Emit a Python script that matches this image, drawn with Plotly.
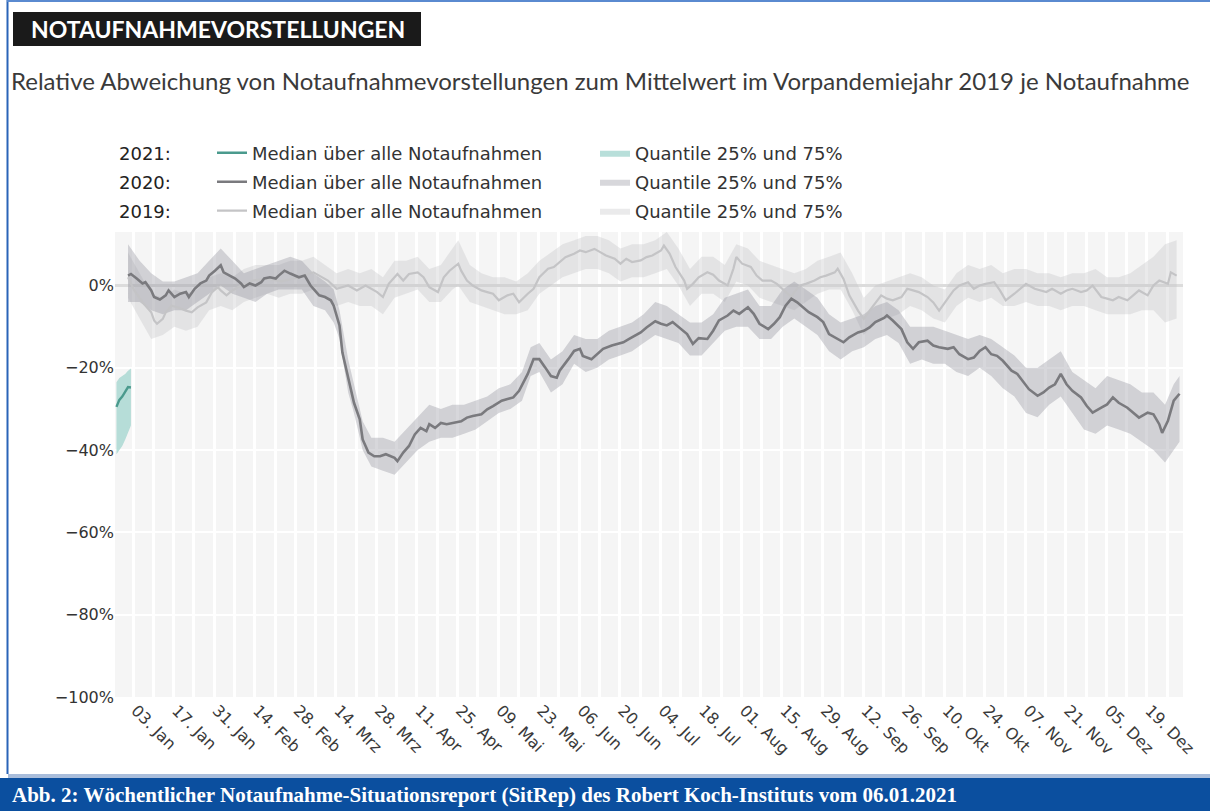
import pandas as pd
import plotly.graph_objects as go

# ---------------- data (day index from 1 Jan, value in %) ----------------
BASE = pd.Timestamp("2021-01-01")

days_2021 = [-2, -1, 0, 1, 2, 3]
med_2021 = [-29.5, -27.8, -27.0, -26.0, -24.7, -24.8]
q25_2021 = [-41.0, -40.0, -39.0, -37.5, -36.0, -34.0]
q75_2021 = [-23.5, -22.5, -22.0, -21.5, -20.7, -20.2]

days_2020 = [2, 3, 5, 7, 8, 10, 11, 13, 15, 16, 18, 20, 22, 23, 25, 27, 29, 30, 32, 34,
             35, 37, 39, 41, 42, 44, 46, 48, 49, 51, 53, 54, 56, 58, 60, 61, 63, 65, 67, 68,
             70, 72, 73, 75, 76, 78, 80, 82, 83, 85, 87, 89, 91, 94, 95, 97, 99, 101, 103, 105,
             106, 108, 110, 112, 114, 117, 119, 121, 124, 126, 128, 131, 133, 135, 137, 140, 142, 144, 146, 148,
             150, 151, 154, 156, 158, 159, 162, 164, 166, 169, 171, 173, 175, 177, 179, 181, 184, 186, 188, 190,
             193, 195, 197, 199, 202, 204, 206, 209, 211, 213, 216, 218, 220, 223, 225, 227, 229, 231, 233, 235,
             237, 240, 242, 244, 247, 249, 251, 254, 256, 258, 260, 263, 264, 266, 269, 271, 273, 275, 278, 280,
             282, 285, 287, 289, 292, 294, 296, 298, 300, 302, 304, 307, 309, 311, 313, 316, 318, 320, 322, 324,
             326, 328, 331, 333, 335, 338, 340, 342, 344, 347, 349, 351, 354, 356, 358, 359, 361, 363, 365]
med_2020 = [2.4, 2.8, 1.7, 0.5, 0.8, -1.2, -2.8, -3.4, -2.4, -1.2, -2.8, -2.0, -1.6, -2.8, -0.8, 0.5, 1.2, 2.4, 3.6, 4.9,
            3.2, 2.4, 1.7, 0.5, -0.4, 0.5, 0.0, 0.8, 1.7, 2.0, 1.7, 2.4, 3.6, 2.9, 2.4, 2.0, 2.4, 0.0, -1.6, -2.4,
            -2.8, -3.6, -4.9, -9.7, -16.3, -22.7, -28.5, -32.5, -37.4, -40.6, -41.5, -41.5, -41.0, -41.9, -42.7, -40.6, -39.0, -36.2, -34.6, -35.4,
            -33.7, -34.6, -33.4, -33.7, -33.4, -33.0, -32.1, -31.7, -31.3, -30.1, -29.3, -28.0, -27.6, -27.2, -25.6, -21.5, -17.9, -17.9, -19.9, -22.0,
            -22.4, -20.7, -17.9, -15.9, -15.4, -17.1, -17.9, -16.7, -15.4, -14.6, -14.2, -13.8, -13.0, -12.2, -11.4, -10.2, -8.7, -9.3, -9.7, -8.9,
            -10.6, -11.8, -14.2, -12.8, -13.0, -11.0, -8.5, -7.3, -6.1, -6.9, -5.3, -6.9, -9.3, -10.6, -9.3, -7.7, -4.9, -3.2, -4.1, -5.3,
            -6.5, -7.7, -8.9, -11.8, -13.0, -13.8, -12.6, -11.4, -11.0, -10.2, -8.9, -7.9, -7.3, -8.5, -10.6, -13.8, -15.4, -13.8, -13.4, -14.6,
            -15.0, -15.4, -15.0, -16.7, -17.9, -17.5, -15.9, -15.0, -16.7, -17.1, -18.3, -20.7, -21.5, -23.5, -25.2, -26.8, -26.0, -24.8, -24.0, -21.5,
            -24.0, -25.6, -27.2, -29.3, -30.9, -29.7, -28.9, -27.2, -28.5, -29.7, -30.9, -32.1, -30.9, -31.3, -33.7, -35.8, -32.9, -28.0, -26.3]

band_days_2020 = [2, 6, 10, 14, 18, 22, 26, 30, 34, 38, 42, 46, 50, 54, 58, 62, 66, 70, 73, 75,
                  78, 80, 83, 86, 90, 94, 98, 102, 106, 110, 114, 118, 122, 126, 130, 134, 138, 141, 144, 148,
                  152, 156, 160, 164, 168, 172, 176, 180, 184, 188, 192, 196, 200, 204, 208, 212, 216, 220, 224, 228,
                  232, 236, 240, 244, 248, 252, 256, 260, 264, 268, 272, 276, 280, 284, 288, 292, 296, 300, 304, 308,
                  312, 316, 320, 324, 328, 332, 336, 340, 344, 348, 352, 356, 360, 363, 365]
q25_2020 = [-4, -4, -6, -7, -6, -6, -4, -2, 0, -2, -3, -4, -2, -1, -1, -1, -5, -6, -9, -13,
            -26, -31, -40, -44, -45, -46, -43, -40, -38, -37, -37, -36, -35, -33, -31, -30, -28, -22, -21, -26,
            -24, -19, -21, -20, -18, -17, -16, -14, -12, -13, -14, -17, -17, -14, -11, -10, -10, -13, -13, -10,
            -8, -10, -12, -16, -18, -16, -15, -13, -12, -14, -19, -18, -19, -19, -21, -22, -20, -22, -25, -27,
            -31, -32, -29, -27, -31, -35, -36, -34, -35, -36, -38, -40, -43, -40, -38]
q75_2020 = [10, 6, 3, 1, 1, 2, 3, 6, 9, 6, 3, 4, 5, 6, 7, 6, 3, 1, -1, -6,
            -18, -24, -33, -37, -37, -38, -35, -32, -29, -30, -29, -29, -28, -27, -25, -24, -21, -15, -14, -18,
            -16, -12, -13, -13, -11, -10, -9, -7, -4, -5, -7, -9, -9, -7, -3, -2, -1, -5, -5, -1,
            1, -1, -3, -7, -9, -8, -7, -5, -4, -6, -10, -10, -10, -11, -12, -13, -12, -13, -15, -17,
            -20, -20, -18, -16, -21, -23, -25, -22, -23, -24, -26, -26, -29, -24, -22]

days_2019 = [2, 4, 7, 10, 11, 12, 14, 15, 17, 19, 22, 24, 26, 29, 31, 33, 34, 36, 38, 41,
             43, 45, 50, 55, 61, 66, 71, 74, 78, 81, 84, 88, 90, 92, 95, 97, 99, 102, 104, 106,
             109, 111, 113, 116, 117, 119, 121, 124, 126, 128, 130, 133, 135, 137, 140, 142, 144, 147, 149, 151,
             153, 156, 158, 160, 163, 165, 167, 170, 172, 174, 176, 179, 181, 183, 186, 187, 189, 191, 194, 195,
             197, 199, 202, 204, 206, 209, 211, 212, 214, 217, 219, 221, 224, 226, 228, 231, 232, 234, 236, 239,
             241, 243, 246, 247, 249, 251, 254, 256, 258, 260, 262, 264, 266, 269, 271, 273, 275, 278, 280, 282,
             285, 287, 289, 292, 294, 296, 298, 301, 303, 305, 308, 310, 312, 315, 317, 319, 321, 324, 326, 328,
             331, 333, 335, 338, 340, 342, 344, 347, 349, 351, 354, 356, 358, 361, 362, 364]
med_2019 = [2.0, -1.0, -4.1, -6.5, -8.5, -9.3, -8.1, -6.5, -4.9, -5.3, -6.1, -6.5, -5.3, -4.1, -1.6, -0.4, -1.2, -2.4, -1.2, 0.0,
            0.4, 1.2, 1.7, 1.0, 2.0, 3.2, 1.2, -0.8, 0.0, -1.2, 0.0, -1.6, -2.8, 0.4, 2.8, 1.2, 2.8, 3.2, 2.0, -0.4,
            -1.6, 2.0, 3.6, 5.3, 3.6, 1.2, 0.0, -1.2, -1.6, -2.0, -3.6, -2.4, -2.0, -4.1, -2.0, -0.8, 2.0, 4.1, 4.5, 5.7,
            6.9, 7.7, 8.5, 8.1, 8.9, 8.1, 7.3, 6.5, 5.3, 6.5, 5.7, 6.1, 6.9, 7.3, 8.5, 9.7, 7.7, 4.5, 1.2, -0.8,
            0.4, 2.0, 3.2, 2.6, 1.2, 0.0, 4.1, 6.9, 5.3, 4.5, 2.4, 1.2, 1.2, 0.4, -0.8, -2.8, -1.6, 0.0, 0.4, 1.2,
            2.0, 2.4, 3.2, 4.1, 1.6, -2.4, -6.1, -8.1, -6.1, -4.1, -2.4, -3.2, -3.6, -2.8, -0.8, -1.2, -1.6, -2.8, -4.1, -6.1,
            -3.2, -1.2, 0.0, 0.8, -0.8, 0.0, 0.4, 0.8, -1.2, -3.6, -2.0, -0.8, 0.4, -0.8, -1.2, -1.6, -0.8, -2.0, -1.2, -0.8,
            -1.6, -1.2, 0.0, -2.8, -3.2, -3.6, -2.8, -3.6, -2.4, -1.2, -2.4, 0.0, 1.2, 0.4, 3.2, 2.4]

band_days_2019 = [2, 6, 10, 14, 18, 22, 26, 30, 34, 38, 42, 46, 50, 54, 58, 62, 66, 70, 74, 78,
                  82, 86, 90, 94, 98, 102, 106, 110, 114, 116, 120, 124, 128, 132, 136, 140, 144, 148, 152, 156,
                  160, 164, 168, 172, 176, 180, 184, 188, 192, 196, 200, 204, 208, 212, 216, 220, 224, 228, 232, 236,
                  240, 244, 248, 252, 256, 260, 264, 268, 272, 276, 280, 284, 288, 292, 296, 300, 304, 308, 312, 316,
                  320, 324, 328, 332, 336, 340, 344, 348, 352, 356, 360, 364]
q25_2019 = [-3, -8, -13, -12, -10, -11, -10, -6, -5, -6, -4, -3, -2, -3, -2, -2, -1, -3, -5, -4,
            -5, -5, -7, -3, -2, -1, -4, -4, -1, 0, -4, -5, -6, -7, -7, -6, -2, 0, 2, 3,
            4, 4, 3, 1, 2, 2, 3, 4, 0, -5, -2, -2, -4, 1, 0, -3, -4, -5, -6, -4,
            -2, -1, -1, -6, -12, -9, -8, -7, -5, -6, -8, -9, -5, -3, -4, -3, -5, -5, -4, -5,
            -5, -6, -5, -5, -6, -7, -7, -7, -6, -6, -9, -8]
q75_2019 = [8, 3, -2, -3, -1, -2, -1, 2, 3, 2, 4, 5, 5, 5, 6, 6, 7, 5, 3, 4,
            3, 4, 2, 6, 6, 7, 4, 5, 9, 11, 5, 3, 2, 2, 1, 3, 6, 8, 10, 11,
            12, 12, 11, 9, 10, 10, 11, 13, 9, 4, 7, 7, 5, 10, 9, 6, 5, 4, 3, 4,
            6, 7, 8, 3, -3, 0, 1, 2, 3, 2, 0, -1, 3, 5, 4, 5, 3, 4, 4, 3,
            3, 2, 3, 3, 4, 2, 2, 3, 5, 7, 10, 11]

tick_days = [2, 16, 30, 44, 58, 72, 86, 100, 114, 128, 142, 156, 170, 184, 198, 212, 226,
             240, 254, 268, 282, 296, 310, 324, 338, 352]
tick_labels = ["03. Jan", "17. Jan", "31. Jan", "14. Feb", "28. Feb", "14. Mrz", "28. Mrz",
               "11. Apr", "25. Apr", "09. Mai", "23. Mai", "06. Jun", "20. Jun", "04. Jul",
               "18. Jul", "01. Aug", "15. Aug", "29. Aug", "12. Sep", "26. Sep", "10. Okt",
               "24. Okt", "07. Nov", "21. Nov", "05. Dez", "19. Dez"]
y_ticks = [-100, -80, -60, -40, -20, 0]
y_tick_labels = ["\u2212100%", "\u221280%", "\u221260%", "\u221240%", "\u221220%", "0%"]

years = ["2021", "2020", "2019"]
median_name = "Median über alle Notaufnahmen"
quantile_name = "Quantile 25% und 75%"


def to_dates(days):
    return list(BASE + pd.to_timedelta(days, unit="D"))


# ---------------- styling ----------------
LINE_COLORS = {"2021": "#4a9a8d", "2020": "#7a7a7e", "2019": "#c4c4c6"}
BAND_COLORS = {"2021": "rgba(160,212,206,0.75)", "2020": "rgba(150,150,160,0.38)",
               "2019": "rgba(195,195,198,0.35)"}
LEGEND_FOR = {"2021": "legend", "2020": "legend2", "2019": "legend3"}
LINE_W = {"2021": 2.4, "2020": 2.6, "2019": 2.2}

series = {
    "2021": (days_2021, med_2021, days_2021, q25_2021, q75_2021),
    "2020": (days_2020, med_2020, band_days_2020, q25_2020, q75_2020),
    "2019": (days_2019, med_2019, band_days_2019, q25_2019, q75_2019),
}

fig = go.Figure()

# bands first (drawn underneath)
for yr in ["2019", "2020", "2021"]:
    d, m, bd, lo, hi = series[yr]
    bx = to_dates(bd)
    fig.add_trace(go.Scatter(
        x=bx + bx[::-1], y=hi + lo[::-1], mode="lines", fill="toself",
        fillcolor=BAND_COLORS[yr], line=dict(width=0), name=quantile_name,
        legend=LEGEND_FOR[yr], legendrank=2, hoverinfo="skip"))

for yr in ["2019", "2020", "2021"]:
    d, m, bd, lo, hi = series[yr]
    fig.add_trace(go.Scatter(
        x=to_dates(d), y=m, mode="lines", line=dict(color=LINE_COLORS[yr], width=LINE_W[yr]),
        name=median_name, legend=LEGEND_FOR[yr], legendrank=1))

# ---------------- layout geometry helpers ----------------
W, H = 1210, 811
ML, MR, MT, MB = 115, 27, 232, 114
PW, PH = W - ML - MR, H - MT - MB


def px(x):
    return (x - ML) / PW


def py(y):
    return (H - MB - y) / PH


FONT = "DejaVu Sans"
row_y = [153, 182, 211]

legend_common = dict(orientation="h", xanchor="left", yanchor="middle", bgcolor="rgba(0,0,0,0)",
                     font=dict(family=FONT, size=18, color="#333333"), itemwidth=30,
                     entrywidth=338, entrywidthmode="pixels", tracegroupgap=0)
legends = {}
for i, yr in enumerate(years):
    key = LEGEND_FOR[yr]
    legends[key] = dict(legend_common, x=px(212), y=py(row_y[i]))

annotations = [
    dict(text="<b>NOTAUFNAHMEVORSTELLUNGEN</b>", x=px(218), y=py(29), xref="paper", yref="paper",
         showarrow=False, xanchor="center", yanchor="middle",
         font=dict(family="Lato", size=23, color="white")),
    dict(text="Relative Abweichung von Notaufnahmevorstellungen zum Mittelwert im Vorpandemiejahr 2019 je Notaufnahme",
         x=px(9), y=py(80), xref="paper", yref="paper", showarrow=False, xanchor="left", yanchor="middle",
         font=dict(family="Lato", size=24, color="#3a3a3a")),
    dict(text="<b>Abb. 2: Wöchentlicher Notaufnahme-Situationsreport (SitRep) des Robert Koch-Instituts vom 06.01.2021</b>",
         x=px(10), y=py(795), xref="paper", yref="paper", showarrow=False, xanchor="left", yanchor="middle",
         font=dict(family="Liberation Serif", size=21, color="white")),
]
for i, yr in enumerate(years):
    annotations.append(dict(text=yr + ":", x=px(117), y=py(row_y[i]), xref="paper", yref="paper",
                            showarrow=False, xanchor="left", yanchor="middle",
                            font=dict(family=FONT, size=18, color="#222222")))

shapes = [
    dict(type="rect", xref="paper", yref="paper", x0=px(13), x1=px(421), y0=py(46), y1=py(12),
         fillcolor="#1a1a1a", line=dict(width=0), layer="above"),
    dict(type="rect", xref="paper", yref="paper", x0=px(0), x1=px(1210), y0=py(811), y1=py(778),
         fillcolor="#0b4f9f", line=dict(width=0)),
    dict(type="rect", xref="paper", yref="paper", x0=px(8), x1=px(1210), y0=py(778), y1=py(774),
         fillcolor="#a9bddb", line=dict(width=0)),
    dict(type="line", xref="paper", yref="paper", x0=px(7.5), x1=px(7.5), y0=py(774), y1=py(0),
         line=dict(color="#2a64b8", width=2)),
    dict(type="line", xref="paper", yref="paper", x0=px(7), x1=px(1210), y0=py(1), y1=py(1),
         line=dict(color="#5a8ad0", width=2)),
]

x_range = [BASE - pd.Timedelta(days=2.5), BASE + pd.Timedelta(days=366.2)]

fig.update_layout(
    width=W, height=H, margin=dict(l=ML, r=MR, t=MT, b=MB, autoexpand=False),
    paper_bgcolor="white", plot_bgcolor="#f5f5f5",
    font=dict(family=FONT, color="#333333"),
    showlegend=True, annotations=annotations, shapes=shapes,
    xaxis=dict(type="date", range=x_range, tickmode="array", tickvals=to_dates(tick_days),
               ticktext=tick_labels, tickangle=45, ticklabelshift=8,
               tickfont=dict(family=FONT, size=16, color="#3a3a3a"),
               showgrid=False, zeroline=False, showline=False, ticks="",
               minor=dict(tick0=BASE + pd.Timedelta(days=3.75), dtick=7 * 86400000, showgrid=True,
                          gridcolor="white", gridwidth=3, ticks="")),
    yaxis=dict(range=[-100, 13], tickmode="array", tickvals=y_ticks, ticktext=y_tick_labels,
               tickfont=dict(family=FONT, size=16, color="#333333"),
               showgrid=True, gridcolor="white", gridwidth=1.5,
               zeroline=True, zerolinecolor="#dcdcdc", zerolinewidth=3, showline=False, ticks=""),
    **legends,
)

fig.write_html("out.html", config={"displayModeBar": False},
               post_script="document.body.style.margin='0';document.body.style.overflow='hidden';")
